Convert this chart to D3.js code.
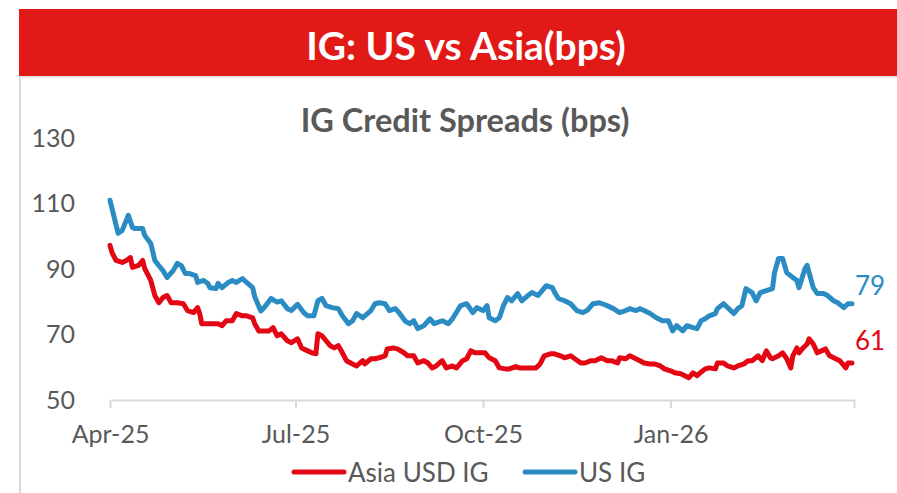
<!DOCTYPE html>
<html>
<head>
<meta charset="utf-8">
<script src="https://cdn.jsdelivr.net/npm/d3@7"></script>
<style>
  html, body { margin: 0; padding: 0; background: #fff; }
  svg { display: block; font-family: Lato, "Open Sans", sans-serif; }
</style>
</head>
<body>
<div id="chart"></div>
<script>
// ---- data ----
const bannerTitle = "IG: US vs Asia(bps)";
const chartTitle = "IG Credit Spreads (bps)";
const seriesNames = ["Asia USD IG", "US IG"];
const xTickDates = ["2025-04-01", "2025-07-01", "2025-10-01", "2026-01-01", "2026-04-01"];
const xTickLabels = ["Apr-25", "Jul-25", "Oct-25", "Jan-26", ""];
const yTicks = [50, 70, 90, 110, 130];

const asiaUsdIG = [
  ["2025-04-01", 97.2], ["2025-04-02", 95.0], ["2025-04-04", 92.6], ["2025-04-07", 92.0],
  ["2025-04-09", 92.6], ["2025-04-11", 93.5], ["2025-04-12", 90.5], ["2025-04-15", 91.1],
  ["2025-04-17", 92.6], ["2025-04-18", 90.2], ["2025-04-21", 86.5], ["2025-04-23", 81.9],
  ["2025-04-25", 79.7], ["2025-04-27", 81.3], ["2025-04-29", 81.9], ["2025-05-01", 79.7],
  ["2025-05-04", 79.7], ["2025-05-07", 79.4], ["2025-05-09", 77.3], ["2025-05-12", 76.7],
  ["2025-05-14", 78.2], ["2025-05-15", 76.4], ["2025-05-16", 73.3], ["2025-05-19", 73.3],
  ["2025-05-21", 73.3], ["2025-05-24", 73.3], ["2025-05-26", 72.7], ["2025-05-28", 74.2],
  ["2025-05-31", 74.2], ["2025-06-02", 76.4], ["2025-06-05", 75.7], ["2025-06-07", 75.7],
  ["2025-06-10", 75.1], ["2025-06-11", 73.3], ["2025-06-13", 71.1], ["2025-06-15", 71.1],
  ["2025-06-18", 71.1], ["2025-06-20", 72.1], ["2025-06-22", 69.6], ["2025-06-24", 70.2],
  ["2025-06-27", 68.1], ["2025-06-29", 67.5], ["2025-07-02", 68.7], ["2025-07-04", 65.9],
  ["2025-07-07", 65.0], ["2025-07-09", 64.4], ["2025-07-11", 64.1], ["2025-07-12", 70.2],
  ["2025-07-14", 69.6], ["2025-07-16", 68.1], ["2025-07-18", 66.6], ["2025-07-20", 65.9],
  ["2025-07-22", 66.6], ["2025-07-24", 64.4], ["2025-07-26", 62.0], ["2025-07-29", 61.0],
  ["2025-07-31", 60.4], ["2025-08-03", 62.0], ["2025-08-04", 61.0], ["2025-08-07", 62.6],
  ["2025-08-09", 62.6], ["2025-08-11", 62.9], ["2025-08-14", 63.5], ["2025-08-15", 65.6],
  ["2025-08-18", 65.9], ["2025-08-20", 65.6], ["2025-08-23", 64.5], ["2025-08-25", 63.5],
  ["2025-08-28", 63.5], ["2025-08-30", 61.3], ["2025-09-02", 62.0], ["2025-09-04", 61.3],
  ["2025-09-06", 59.8], ["2025-09-08", 60.4], ["2025-09-11", 62.0], ["2025-09-13", 59.8],
  ["2025-09-16", 60.4], ["2025-09-18", 59.8], ["2025-09-21", 62.0], ["2025-09-23", 62.6],
  ["2025-09-25", 65.0], ["2025-09-27", 64.4], ["2025-09-30", 64.4], ["2025-10-02", 64.4],
  ["2025-10-04", 62.9], ["2025-10-07", 62.0], ["2025-10-09", 59.8], ["2025-10-12", 59.5],
  ["2025-10-14", 59.5], ["2025-10-17", 60.2], ["2025-10-19", 59.8], ["2025-10-22", 59.8],
  ["2025-10-24", 59.8], ["2025-10-27", 59.8], ["2025-10-29", 61.0], ["2025-10-31", 63.5],
  ["2025-11-03", 64.1], ["2025-11-05", 64.1], ["2025-11-08", 63.5], ["2025-11-10", 62.9],
  ["2025-11-13", 63.5], ["2025-11-15", 62.6], ["2025-11-18", 61.3], ["2025-11-20", 61.3],
  ["2025-11-23", 62.0], ["2025-11-25", 62.0], ["2025-11-28", 62.9], ["2025-12-01", 62.0],
  ["2025-12-03", 62.0], ["2025-12-06", 61.3], ["2025-12-07", 62.9], ["2025-12-10", 62.6],
  ["2025-12-12", 63.5], ["2025-12-15", 62.6], ["2025-12-17", 62.0], ["2025-12-19", 61.3],
  ["2025-12-22", 61.0], ["2025-12-24", 61.0], ["2025-12-27", 60.4], ["2025-12-29", 59.5],
  ["2026-01-01", 58.9], ["2026-01-03", 58.3], ["2026-01-06", 58.0], ["2026-01-08", 57.4],
  ["2026-01-10", 56.8], ["2026-01-12", 58.3], ["2026-01-14", 57.4], ["2026-01-15", 58.0],
  ["2026-01-18", 59.5], ["2026-01-20", 59.8], ["2026-01-23", 59.5], ["2026-01-24", 61.3],
  ["2026-01-27", 61.3], ["2026-01-29", 60.4], ["2026-02-01", 59.8], ["2026-02-03", 60.4],
  ["2026-02-06", 61.0], ["2026-02-08", 62.0], ["2026-02-10", 62.0], ["2026-02-13", 63.5],
  ["2026-02-15", 62.0], ["2026-02-17", 65.0], ["2026-02-19", 62.9], ["2026-02-20", 62.6],
  ["2026-02-23", 63.5], ["2026-02-25", 64.4], ["2026-02-27", 62.6], ["2026-03-01", 59.8],
  ["2026-03-02", 63.5], ["2026-03-04", 65.9], ["2026-03-05", 64.4], ["2026-03-07", 65.9],
  ["2026-03-09", 67.1], ["2026-03-10", 68.7], ["2026-03-12", 67.1], ["2026-03-14", 64.4],
  ["2026-03-16", 65.0], ["2026-03-18", 65.6], ["2026-03-20", 63.5], ["2026-03-23", 62.6],
  ["2026-03-25", 62.0], ["2026-03-28", 59.8], ["2026-03-29", 61.3], ["2026-03-31", 61.3]
];

const usIG = [
  ["2025-04-01", 111.0], ["2025-04-03", 105.9], ["2025-04-05", 100.9], ["2025-04-07", 101.8],
  ["2025-04-10", 106.4], ["2025-04-12", 102.7], ["2025-04-13", 102.4], ["2025-04-17", 102.4],
  ["2025-04-18", 100.3], ["2025-04-21", 97.8], ["2025-04-23", 92.6], ["2025-04-25", 91.0],
  ["2025-04-27", 89.5], ["2025-04-29", 87.4], ["2025-05-02", 89.5], ["2025-05-04", 91.7],
  ["2025-05-06", 91.0], ["2025-05-08", 88.6], ["2025-05-10", 88.6], ["2025-05-13", 88.0],
  ["2025-05-14", 85.9], ["2025-05-17", 86.5], ["2025-05-19", 85.6], ["2025-05-20", 84.3],
  ["2025-05-23", 84.0], ["2025-05-24", 85.6], ["2025-05-26", 84.3], ["2025-05-29", 85.9],
  ["2025-05-31", 86.5], ["2025-06-02", 85.9], ["2025-06-05", 87.1], ["2025-06-07", 85.9],
  ["2025-06-10", 84.3], ["2025-06-11", 81.5], ["2025-06-14", 77.2], ["2025-06-16", 78.5],
  ["2025-06-19", 81.0], ["2025-06-22", 79.9], ["2025-06-24", 80.3], ["2025-06-27", 77.9],
  ["2025-06-29", 77.3], ["2025-07-02", 79.2], ["2025-07-05", 76.7], ["2025-07-07", 75.7],
  ["2025-07-10", 75.7], ["2025-07-12", 80.3], ["2025-07-14", 81.0], ["2025-07-16", 78.8],
  ["2025-07-19", 78.2], ["2025-07-22", 77.9], ["2025-07-24", 75.7], ["2025-07-27", 73.3],
  ["2025-07-29", 74.2], ["2025-07-31", 76.4], ["2025-08-03", 75.1], ["2025-08-04", 75.7],
  ["2025-08-07", 77.3], ["2025-08-09", 79.4], ["2025-08-11", 79.7], ["2025-08-14", 79.4],
  ["2025-08-16", 77.3], ["2025-08-19", 77.9], ["2025-08-21", 76.5], ["2025-08-24", 74.0],
  ["2025-08-26", 73.3], ["2025-08-28", 74.2], ["2025-08-30", 71.8], ["2025-09-02", 72.7],
  ["2025-09-05", 74.8], ["2025-09-07", 73.3], ["2025-09-11", 74.2], ["2025-09-14", 73.3],
  ["2025-09-16", 74.8], ["2025-09-20", 78.8], ["2025-09-23", 79.4], ["2025-09-26", 76.7],
  ["2025-09-28", 78.2], ["2025-10-01", 77.3], ["2025-10-03", 78.8], ["2025-10-04", 75.1],
  ["2025-10-07", 74.2], ["2025-10-09", 75.1], ["2025-10-11", 78.8], ["2025-10-13", 81.3],
  ["2025-10-15", 80.3], ["2025-10-18", 82.5], ["2025-10-20", 80.3], ["2025-10-23", 81.9],
  ["2025-10-25", 82.8], ["2025-10-28", 81.9], ["2025-10-30", 83.4], ["2025-11-01", 84.9],
  ["2025-11-04", 84.3], ["2025-11-05", 83.0], ["2025-11-07", 81.0], ["2025-11-10", 80.3],
  ["2025-11-13", 79.4], ["2025-11-16", 77.3], ["2025-11-19", 76.7], ["2025-11-21", 77.3],
  ["2025-11-24", 79.4], ["2025-11-27", 79.7], ["2025-12-01", 78.8], ["2025-12-04", 77.9],
  ["2025-12-07", 76.7], ["2025-12-10", 77.3], ["2025-12-12", 77.9], ["2025-12-15", 77.3],
  ["2025-12-17", 77.9], ["2025-12-19", 77.3], ["2025-12-22", 76.4], ["2025-12-25", 75.1],
  ["2025-12-28", 74.2], ["2025-12-31", 74.2], ["2026-01-02", 71.1], ["2026-01-04", 72.7],
  ["2026-01-07", 71.1], ["2026-01-09", 72.7], ["2026-01-12", 72.1], ["2026-01-14", 71.8],
  ["2026-01-16", 74.2], ["2026-01-18", 74.8], ["2026-01-20", 75.7], ["2026-01-23", 76.4],
  ["2026-01-24", 77.9], ["2026-01-27", 79.4], ["2026-01-29", 78.2], ["2026-02-01", 76.4],
  ["2026-02-03", 77.9], ["2026-02-05", 78.8], ["2026-02-07", 84.0], ["2026-02-10", 82.8],
  ["2026-02-12", 80.3], ["2026-02-14", 82.8], ["2026-02-17", 83.4], ["2026-02-20", 84.0],
  ["2026-02-21", 88.9], ["2026-02-23", 93.2], ["2026-02-25", 93.2], ["2026-02-27", 88.9],
  ["2026-03-02", 87.4], ["2026-03-04", 86.5], ["2026-03-05", 84.3], ["2026-03-08", 90.2],
  ["2026-03-09", 91.1], ["2026-03-12", 84.3], ["2026-03-14", 82.5], ["2026-03-17", 82.5],
  ["2026-03-19", 81.9], ["2026-03-22", 80.3], ["2026-03-24", 79.7], ["2026-03-27", 78.2],
  ["2026-03-29", 79.4], ["2026-03-31", 79.4]
];

// ---- layout / style ----
const CONFIG = {
  width: 897,
  height: 493,
  plot: { left: 110, right: 854, top: 138, bottom: 400 },
  colors: { banner: "#E21A17", asia: "#E30613", us: "#2B8CC4", text: "#595959", axis: "#D9D9D9" }
};

const parseDate = d3.timeParse("%Y-%m-%d");
const series = [
  { name: seriesNames[0], color: CONFIG.colors.asia, labelDy: -13,
    values: asiaUsdIG.map(([d, v]) => ({ date: parseDate(d), value: v })) },
  { name: seriesNames[1], color: CONFIG.colors.us, labelDy: -9,
    values: usIG.map(([d, v]) => ({ date: parseDate(d), value: v })) }
];

const svg = d3.select("#chart")
  .append("svg")
  .attr("width", CONFIG.width)
  .attr("height", CONFIG.height);

// Banner
svg.append("rect")
  .attr("x", 19).attr("y", 9)
  .attr("width", CONFIG.width - 19).attr("height", 67)
  .attr("fill", CONFIG.colors.banner);
svg.append("rect")
  .attr("x", 19).attr("y", 76)
  .attr("width", CONFIG.width - 19).attr("height", 2)
  .attr("fill", "#E4E4E4");
svg.append("text")
  .attr("x", 466).attr("y", 60)
  .attr("text-anchor", "middle")
  .attr("fill", "#fff")
  .style("font-size", "39px").style("font-weight", 700)
  .text(bannerTitle);

// Left frame line
svg.append("rect")
  .attr("x", 19).attr("y", 78)
  .attr("width", 2).attr("height", CONFIG.height - 78)
  .attr("fill", "#DADADA");

// Chart title
svg.append("text")
  .attr("x", 465).attr("y", 132)
  .attr("text-anchor", "middle")
  .attr("fill", CONFIG.colors.text)
  .style("font-size", "32.5px").style("font-weight", 700)
  .text(chartTitle);

// Scales
const x = d3.scaleTime()
  .domain([parseDate(xTickDates[0]), parseDate(xTickDates[xTickDates.length - 1])])
  .range([CONFIG.plot.left, CONFIG.plot.right]);
const y = d3.scaleLinear()
  .domain([yTicks[0], yTicks[yTicks.length - 1]])
  .range([CONFIG.plot.bottom, CONFIG.plot.top]);

// X axis
const xAxis = svg.append("g")
  .attr("transform", `translate(0,${CONFIG.plot.bottom})`)
  .call(d3.axisBottom(x)
    .tickValues(xTickDates.map(parseDate))
    .tickFormat((d, i) => xTickLabels[i])
    .tickSize(8).tickSizeOuter(0).tickPadding(17));
xAxis.select(".domain").attr("stroke", CONFIG.colors.axis).attr("stroke-width", 2);
xAxis.selectAll(".tick line").attr("stroke", CONFIG.colors.axis).attr("stroke-width", 2);
xAxis.selectAll(".tick text")
  .attr("fill", CONFIG.colors.text)
  .style("font-size", "25px").style("font-family", "Lato");

// Y axis (labels only)
const yAxis = svg.append("g")
  .attr("transform", `translate(${CONFIG.plot.left},0)`)
  .call(d3.axisLeft(y).tickValues(yTicks).tickSize(0).tickPadding(35));
yAxis.select(".domain").remove();
yAxis.selectAll(".tick text")
  .attr("fill", CONFIG.colors.text)
  .style("font-size", "25px").style("font-family", "Lato");

// Lines
const line = d3.line()
  .x(d => x(d.date))
  .y(d => y(d.value));

svg.selectAll(".series")
  .data(series)
  .enter()
  .append("path")
  .attr("class", "series")
  .attr("fill", "none")
  .attr("stroke", d => d.color)
  .attr("stroke-width", 5)
  .attr("stroke-linejoin", "round")
  .attr("stroke-linecap", "round")
  .attr("d", d => line(d.values));

// End-value labels
svg.selectAll(".end-label")
  .data(series)
  .enter()
  .append("text")
  .attr("class", "end-label")
  .attr("x", d => x(d.values[d.values.length - 1].date) + 3)
  .attr("y", d => y(d.values[d.values.length - 1].value) + d.labelDy)
  .attr("fill", d => d.color)
  .style("font-size", "26px")
  .text(d => Math.round(d.values[d.values.length - 1].value));

// Legend
const legendX = [292, 523];
const legend = svg.selectAll(".legend")
  .data(series)
  .enter()
  .append("g")
  .attr("class", "legend")
  .attr("transform", (d, i) => `translate(${legendX[i]},472)`);
legend.append("line")
  .attr("x1", 2).attr("x2", 52)
  .attr("stroke", d => d.color)
  .attr("stroke-width", 5)
  .attr("stroke-linecap", "round");
legend.append("text")
  .attr("x", 56).attr("y", 10)
  .attr("fill", CONFIG.colors.text)
  .style("font-size", "26px")
  .text(d => d.name);
</script>
</body>
</html>
